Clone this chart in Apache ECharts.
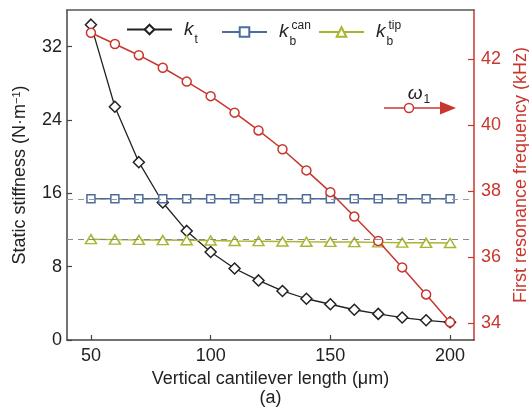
<!DOCTYPE html>
<html><head><meta charset="utf-8">
<script src="https://cdn.jsdelivr.net/npm/echarts@6/dist/echarts.min.js"></script>
<style>html,body{margin:0;padding:0;background:#fff}#c{width:529px;height:410px}</style>
</head><body><div id="c"></div>
<script>
// ---- data ----
const lengths = [50,60,70,80,90,100,110,120,130,140,150,160,170,180,190,200];
const kT     = [34.4,25.45,19.4,15.0,11.9,9.6,7.8,6.5,5.35,4.5,3.9,3.3,2.85,2.45,2.15,1.93];
const kBcan  = [15.4,15.4,15.4,15.4,15.4,15.4,15.4,15.4,15.4,15.4,15.4,15.4,15.4,15.4,15.4,15.4];
const kBtip  = [11.0,10.95,10.92,10.9,10.88,10.85,10.8,10.78,10.75,10.72,10.7,10.68,10.65,10.62,10.6,10.58];
const omega1 = [42.81,42.47,42.13,41.75,41.33,40.89,40.39,39.85,39.28,38.64,37.98,37.24,36.5,35.7,34.88,34.04];
const canRef = 15.4;
const tipRef = 11.0;
const xTicks = [50,100,150,200];
const leftTicks = [0,8,16,24,32];
const rightTicks = [34,36,38,40,42];

const FONT = 'Liberation Sans, Arial, sans-serif';
const BLACK = '#222222', BLUE = '#4a6d9c', OLIVE = '#a9b52f', RED = '#c8372d', AX = '#444444';

const pairs = arr => lengths.map((x, i) => [x, arr[i]]);
const chart = echarts.init(document.getElementById('c'), null, {renderer: 'canvas'});

const legendLabels = {
  kt: '{k|k}{subT|t}',
  kcan: '{k|k}{subB|b}{sup|can}',
  ktip: '{k|k}{subB|b}{sup|tip}'
};
const subBase = {fontSize: 12, fontFamily: FONT, color: BLACK, verticalAlign: 'bottom'};
const legendText = {
  color: BLACK, fontFamily: FONT,
  rich: {
    k: {fontSize: 19, fontStyle: 'italic', fontFamily: FONT, color: BLACK, lineHeight: 20, padding: [0, 0, 0, 7]},
    subT: Object.assign({}, subBase, {padding: [20, 0, 0, 1]}),
    subB: Object.assign({}, subBase, {width: 1, padding: [20, 0, 0, 1]}),
    sup: {fontSize: 12, fontFamily: FONT, color: BLACK, verticalAlign: 'top', padding: [4, 0, 0, 1]}
  }
};
const mkLegend = (name, left) => ({
  left: left, top: 20, padding: 0,
  itemWidth: 45, itemHeight: 12,
  data: [name],
  formatter: n => legendLabels[n],
  textStyle: legendText
});

chart.setOption({
  animation: false,
  backgroundColor: '#fff',
  grid: {left: 67, right: 55, top: 10, bottom: 70, containLabel: false, outerBoundsMode: 'none'},
  legend: [mkLegend('kt', 126), mkLegend('kcan', 221), mkLegend('ktip', 318)],
  xAxis: [{
    type: 'value', min: 40, max: 210,
    name: 'Vertical cantilever length (μm)\n(a)',
    nameLocation: 'middle', nameGap: 23,
    nameTextStyle: {fontSize: 18, fontFamily: FONT, color: BLACK, lineHeight: 19, verticalAlign: 'top'},
    axisLine: {lineStyle: {color: AX, width: 1.5}},
    axisTick: {inside: true, length: 5, customValues: xTicks, lineStyle: {color: AX, width: 1.2}},
    axisLabel: {customValues: xTicks, fontSize: 18, fontFamily: FONT, color: BLACK, margin: 7},
    splitLine: {show: false}
  }, {
    type: 'value', min: 40, max: 210, position: 'top',
    axisLine: {show: true, lineStyle: {color: '#555', width: 1.5}},
    axisTick: {show: false}, axisLabel: {show: false}, splitLine: {show: false}
  }],
  yAxis: [{
    type: 'value', min: 0, max: 36, position: 'left',
    name: 'Static stiffness (N·m{sup|−1})',
    nameLocation: 'middle', nameGap: 38,
    nameTextStyle: {fontSize: 18, fontFamily: FONT, color: BLACK,
      rich: {sup: {fontSize: 11, fontFamily: FONT, color: BLACK, verticalAlign: 'top', lineHeight: 11}}},
    axisLine: {show: true, lineStyle: {color: AX, width: 1.5}},
    axisTick: {inside: true, length: 5, customValues: leftTicks, lineStyle: {color: AX, width: 1.2}},
    axisLabel: {customValues: leftTicks, fontSize: 18, fontFamily: FONT, color: BLACK, margin: 5},
    splitLine: {show: false}
  }, {
    type: 'value', min: 33.5, max: 43.5, position: 'right',
    name: 'First resonance frequency (kHz)',
    nameLocation: 'middle', nameGap: 38,
    nameTextStyle: {fontSize: 18, fontFamily: FONT, color: RED},
    axisLine: {show: true, lineStyle: {color: RED, width: 1.5}},
    axisTick: {inside: true, length: 6, customValues: rightTicks, lineStyle: {color: RED, width: 1.2}},
    axisLabel: {customValues: rightTicks, fontSize: 18, fontFamily: FONT, color: RED, margin: 7},
    splitLine: {show: false}
  }],
  series: [{
    name: 'kt', type: 'line', data: pairs(kT), z: 3,
    symbol: 'diamond', symbolSize: 11,
    lineStyle: {color: BLACK, width: 1.3},
    itemStyle: {color: '#fff', borderColor: BLACK, borderWidth: 1.5}
  }, {
    name: 'kcan', type: 'line', data: pairs(kBcan), z: 3,
    symbol: 'rect', symbolSize: 8,
    lineStyle: {color: BLUE, width: 1.5},
    itemStyle: {color: '#fff', borderColor: BLUE, borderWidth: 1.5},
    markLine: {silent: true, symbol: ['none', 'none'], label: {show: false},
      lineStyle: {color: '#9a9a9a', type: [6, 5], width: 1}, data: [{yAxis: canRef}]}
  }, {
    name: 'ktip', type: 'line', data: pairs(kBtip), z: 3,
    symbol: 'triangle', symbolSize: [11, 9],
    lineStyle: {color: OLIVE, width: 1.5},
    itemStyle: {color: '#fff', borderColor: OLIVE, borderWidth: 1.5},
    markLine: {silent: true, symbol: ['none', 'none'], label: {show: false},
      lineStyle: {color: '#8a8a8a', type: [6, 5], width: 1}, data: [{yAxis: tipRef}]}
  }, {
    name: 'omega1', type: 'line', yAxisIndex: 1, data: pairs(omega1), z: 4,
    symbol: 'circle', symbolSize: 9,
    lineStyle: {color: RED, width: 1.5},
    itemStyle: {color: '#fff', borderColor: RED, borderWidth: 1.5}
  }],
  graphic: [{
    type: 'group', z: 10,
    children: [
      {type: 'line', shape: {x1: 384, y1: 108, x2: 442, y2: 108}, style: {stroke: RED, lineWidth: 1.5}},
      {type: 'polygon', shape: {points: [[440, 101.5], [456, 108], [440, 114.5]]}, style: {fill: RED}},
      {type: 'circle', shape: {cx: 409, cy: 108, r: 4.5}, style: {fill: '#fff', stroke: RED, lineWidth: 1.5}},
      {type: 'text', x: 419, y: 94, style: {
        text: '{w|ω}{s|1}', align: 'center', verticalAlign: 'middle',
        rich: {
          w: {fontSize: 19, fontStyle: 'italic', fontFamily: FONT, fill: BLACK, lineHeight: 20},
          s: {fontSize: 12, fontFamily: FONT, fill: BLACK, verticalAlign: 'bottom', padding: [12, 0, 0, 1]}
        }
      }}
    ]
  }]
});
</script>
</body></html>
